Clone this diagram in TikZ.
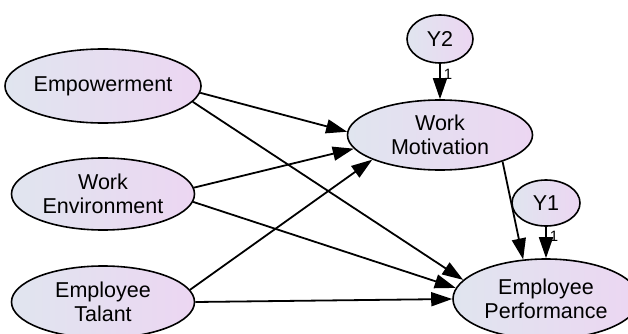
\documentclass[tikz,border=0pt]{standalone}
\usepackage{fontspec}
\setmainfont{Liberation Sans}
\usetikzlibrary{arrows.meta}
\usetikzlibrary{shapes.geometric}
\definecolor{shadeleft}{RGB}{224,229,239}
\definecolor{shaderight}{RGB}{236,214,242}

\begin{document}
\begin{tikzpicture}[x=1pt, y=-1pt,
    latent/.style={ellipse, draw, line width=1.6pt, left color=shadeleft, right color=shaderight,
        inner sep=0pt, align=center, font=\fontsize{21.5}{24}\selectfont},
    effect/.style={-{Triangle[length=21pt, width=14pt]}, line width=1.8pt},
    fixed/.style={pos=0.3, right=3pt, inner sep=0pt, font=\fontsize{15}{15}\selectfont}]
    \useasboundingbox (0, 0) rectangle (628, 334);

    % exogenous variables
    \node [latent, minimum width=183pt, minimum height=74pt] (emp) at (103, 86) {Empowerment};
    \node [latent, minimum width=183pt, minimum height=72pt] (env) at (103, 194) {Work\\Environment};
    \node [latent, minimum width=183pt, minimum height=72pt] (tal) at (103, 302) {Employee\\Talant};

    % endogenous variables and their residuals
    \node [latent, minimum width=185pt, minimum height=70pt] (mot) at (440, 135) {Work\\Motivation};
    \node [latent, minimum width=186pt, minimum height=80pt] (perf) at (546, 299) {Employee\\Performance};
    \node [latent, minimum width=66pt, minimum height=48pt] (y2) at (440, 39) {Y2};
    \node [latent, minimum width=68pt, minimum height=46pt] (y1) at (546, 203) {Y1};

    \draw [effect] (emp.-4) -- (mot.178);
    \draw [effect] (emp.-10) -- (perf.167);
    \draw [effect] (env.4) -- (mot.189);
    \draw [effect] (env.-5) -- (perf.173);
    \draw [effect] (tal.8) -- (mot.200);
    \draw [effect] (tal.east) -- (perf.west);
    \draw [effect] (mot.-23) -- (perf.120);
    \draw [effect] (y2) -- node [fixed] {1} (mot);
    \draw [effect] (y1) -- node [fixed] {1} (perf);
\end{tikzpicture}
\end{document}
